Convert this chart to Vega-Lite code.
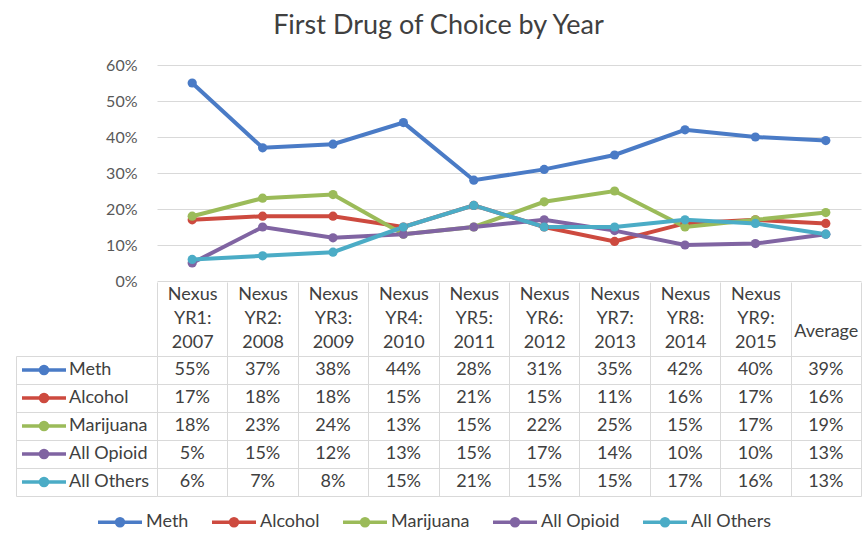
{
  "$schema": "https://vega.github.io/schema/vega-lite/v6.json",
  "background": "white",
  "padding": {"left": 15, "top": 12, "right": 6, "bottom": 0},
  "title": {"text": "First Drug of Choice by Year", "fontSize": 27, "fontWeight": "normal", "color": "#404040", "anchor": "middle", "offset": 17},
  "datasets": {
    "d": [
      {"drug": "Meth", "period": "Nexus YR1: 2007", "value": 0.55},
      {"drug": "Meth", "period": "Nexus YR2: 2008", "value": 0.37},
      {"drug": "Meth", "period": "Nexus YR3: 2009", "value": 0.38},
      {"drug": "Meth", "period": "Nexus YR4: 2010", "value": 0.44},
      {"drug": "Meth", "period": "Nexus YR5: 2011", "value": 0.28},
      {"drug": "Meth", "period": "Nexus YR6: 2012", "value": 0.31},
      {"drug": "Meth", "period": "Nexus YR7: 2013", "value": 0.35},
      {"drug": "Meth", "period": "Nexus YR8: 2014", "value": 0.42},
      {"drug": "Meth", "period": "Nexus YR9: 2015", "value": 0.40},
      {"drug": "Meth", "period": "Average", "value": 0.39},
      {"drug": "Alcohol", "period": "Nexus YR1: 2007", "value": 0.17},
      {"drug": "Alcohol", "period": "Nexus YR2: 2008", "value": 0.18},
      {"drug": "Alcohol", "period": "Nexus YR3: 2009", "value": 0.18},
      {"drug": "Alcohol", "period": "Nexus YR4: 2010", "value": 0.15},
      {"drug": "Alcohol", "period": "Nexus YR5: 2011", "value": 0.21},
      {"drug": "Alcohol", "period": "Nexus YR6: 2012", "value": 0.15},
      {"drug": "Alcohol", "period": "Nexus YR7: 2013", "value": 0.11},
      {"drug": "Alcohol", "period": "Nexus YR8: 2014", "value": 0.16},
      {"drug": "Alcohol", "period": "Nexus YR9: 2015", "value": 0.17},
      {"drug": "Alcohol", "period": "Average", "value": 0.16},
      {"drug": "Marijuana", "period": "Nexus YR1: 2007", "value": 0.18},
      {"drug": "Marijuana", "period": "Nexus YR2: 2008", "value": 0.23},
      {"drug": "Marijuana", "period": "Nexus YR3: 2009", "value": 0.24},
      {"drug": "Marijuana", "period": "Nexus YR4: 2010", "value": 0.13},
      {"drug": "Marijuana", "period": "Nexus YR5: 2011", "value": 0.15},
      {"drug": "Marijuana", "period": "Nexus YR6: 2012", "value": 0.22},
      {"drug": "Marijuana", "period": "Nexus YR7: 2013", "value": 0.25},
      {"drug": "Marijuana", "period": "Nexus YR8: 2014", "value": 0.15},
      {"drug": "Marijuana", "period": "Nexus YR9: 2015", "value": 0.17},
      {"drug": "Marijuana", "period": "Average", "value": 0.19},
      {"drug": "All Opioid", "period": "Nexus YR1: 2007", "value": 0.05},
      {"drug": "All Opioid", "period": "Nexus YR2: 2008", "value": 0.15},
      {"drug": "All Opioid", "period": "Nexus YR3: 2009", "value": 0.12},
      {"drug": "All Opioid", "period": "Nexus YR4: 2010", "value": 0.13},
      {"drug": "All Opioid", "period": "Nexus YR5: 2011", "value": 0.15},
      {"drug": "All Opioid", "period": "Nexus YR6: 2012", "value": 0.17},
      {"drug": "All Opioid", "period": "Nexus YR7: 2013", "value": 0.14},
      {"drug": "All Opioid", "period": "Nexus YR8: 2014", "value": 0.10},
      {"drug": "All Opioid", "period": "Nexus YR9: 2015", "value": 0.104},
      {"drug": "All Opioid", "period": "Average", "value": 0.13},
      {"drug": "All Others", "period": "Nexus YR1: 2007", "value": 0.06},
      {"drug": "All Others", "period": "Nexus YR2: 2008", "value": 0.07},
      {"drug": "All Others", "period": "Nexus YR3: 2009", "value": 0.08},
      {"drug": "All Others", "period": "Nexus YR4: 2010", "value": 0.15},
      {"drug": "All Others", "period": "Nexus YR5: 2011", "value": 0.21},
      {"drug": "All Others", "period": "Nexus YR6: 2012", "value": 0.15},
      {"drug": "All Others", "period": "Nexus YR7: 2013", "value": 0.15},
      {"drug": "All Others", "period": "Nexus YR8: 2014", "value": 0.17},
      {"drug": "All Others", "period": "Nexus YR9: 2015", "value": 0.16},
      {"drug": "All Others", "period": "Average", "value": 0.13}
    ]
  },
  "bounds": "flush",
  "spacing": 75,
  "resolve": {"legend": {"color": "independent", "stroke": "independent"}},
  "vconcat": [
    {
      "width": 704,
      "height": 216,
      "data": {"name": "d"},
      "encoding": {
        "x": {"field": "period", "type": "nominal", "sort": null,
          "scale": {"type": "band", "domain": ["Nexus YR1: 2007", "Nexus YR2: 2008", "Nexus YR3: 2009", "Nexus YR4: 2010", "Nexus YR5: 2011", "Nexus YR6: 2012", "Nexus YR7: 2013", "Nexus YR8: 2014", "Nexus YR9: 2015", "Average"], "paddingInner": 0, "paddingOuter": 0},
          "axis": null},
        "y": {"field": "value", "type": "quantitative",
          "scale": {"domain": [0, 0.6]},
          "axis": {"values": [0, 0.1, 0.2, 0.3, 0.4, 0.5, 0.6], "format": ".0%", "title": null, "grid": true, "gridColor": "#d9d9d9", "gridWidth": 1, "domain": false, "ticks": false, "labelPadding": 20, "labelFontSize": 16, "labelColor": "#595959"}},
        "color": {"field": "drug", "type": "nominal",
          "scale": {"domain": ["Meth", "Alcohol", "Marijuana", "All Opioid", "All Others"], "range": ["#4a7bc6", "#cd4a3f", "#9bbb59", "#8064a2", "#4bacc6"]},
          "legend": null}
      },
      "layer": [
        {"mark": {"type": "line", "strokeWidth": 4}},
        {"mark": {"type": "point", "filled": true, "size": 85, "opacity": 1}}
      ]
    },
    {
      "width": 704,
      "height": 140,
      "data": {"name": "d"},
      "encoding": {
        "x": {"field": "period", "type": "nominal", "sort": null,
          "scale": {"type": "band", "domain": ["Nexus YR1: 2007", "Nexus YR2: 2008", "Nexus YR3: 2009", "Nexus YR4: 2010", "Nexus YR5: 2011", "Nexus YR6: 2012", "Nexus YR7: 2013", "Nexus YR8: 2014", "Nexus YR9: 2015", "Average"], "paddingInner": 0, "paddingOuter": 0},
          "axis": {"orient": "top", "title": null, "domain": false, "tickBand": "extent", "tickSize": 74, "tickColor": "#d9d9d9", "grid": true, "gridColor": "#d9d9d9", "labelAngle": 0,
            "labelExpr": "datum.value == 'Average' ? 'Average' : split(datum.label, ' ')",
            "labelLineHeight": 24, "labelBaseline": "middle",
            "labelPadding": {"condition": {"test": "datum.value == 'Average'", "value": -49}, "value": -12},
            "labelFontSize": 18, "labelColor": "#404040", "labelOverlap": false, "labelBound": false}},
        "y": {"field": "drug", "type": "nominal", "sort": null,
          "scale": {"type": "band", "domain": ["Meth", "Alcohol", "Marijuana", "All Opioid", "All Others"], "paddingInner": 0, "paddingOuter": 0},
          "axis": {"title": null, "labels": false, "domain": true, "domainColor": "#d9d9d9", "offset": 141, "tickBand": "extent", "tickSize": -141, "tickColor": "#d9d9d9", "grid": true, "gridColor": "#d9d9d9"}}
      },
      "layer": [
        {"mark": {"type": "text", "fontSize": 18, "color": "#404040"},
          "encoding": {"text": {"field": "value", "type": "quantitative", "format": ".0%"}}},
        {"transform": [{"filter": "datum.period == 'Average'"}],
          "mark": {"type": "line"},
          "encoding": {"color": {"field": "drug", "type": "nominal",
            "scale": {"domain": ["Meth", "Alcohol", "Marijuana", "All Opioid", "All Others"], "range": ["#4a7bc6", "#cd4a3f", "#9bbb59", "#8064a2", "#4bacc6"]},
            "legend": {"orient": "none", "legendX": -61, "legendY": 142, "direction": "horizontal", "title": null, "padding": 0,
              "symbolType": "M-1,0H1M0.16,0A0.16,0.16 0 1 1 -0.16,0A0.16,0.16 0 1 1 0.16,0M0.09,0A0.09,0.09 0 1 1 -0.09,0A0.09,0.09 0 1 1 0.09,0M0.03,0A0.03,0.03 0 1 1 -0.03,0A0.03,0.03 0 1 1 0.03,0",
              "symbolSize": 1936, "symbolStrokeWidth": 3.5, "labelFontSize": 18, "labelColor": "#404040", "labelOffset": 2, "columnPadding": 16,
              "encode": {"symbols": {"update": {"opacity": {"value": 1}, "strokeWidth": {"value": 3.5}}}}}}}},
        {"transform": [{"filter": "datum.period == 'Average'"}],
          "mark": {"type": "line"},
          "encoding": {"stroke": {"field": "drug", "type": "nominal",
            "sort": ["Meth", "Alcohol", "Marijuana", "All Opioid", "All Others"],
            "scale": {"range": ["#4a7bc6", "#cd4a3f", "#9bbb59", "#8064a2", "#4bacc6"]},
            "legend": {"orient": "none", "legendX": -137, "legendY": 0, "direction": "vertical", "title": null, "padding": 0,
              "symbolType": "M-1,0H1M0.16,0A0.16,0.16 0 1 1 -0.16,0A0.16,0.16 0 1 1 0.16,0M0.09,0A0.09,0.09 0 1 1 -0.09,0A0.09,0.09 0 1 1 0.09,0M0.03,0A0.03,0.03 0 1 1 -0.03,0A0.03,0.03 0 1 1 0.03,0",
              "symbolSize": 1936, "symbolStrokeWidth": 3.5, "labelFontSize": 18, "labelColor": "#404040", "labelOffset": 1, "rowPadding": 0, "clipHeight": 28,
              "encode": {"symbols": {"update": {"opacity": {"value": 1}, "strokeWidth": {"value": 3.5}}}}}}}}
      ]
    }
  ],
  "config": {
    "font": "Lato",
    "view": {"stroke": null}
  }
}
